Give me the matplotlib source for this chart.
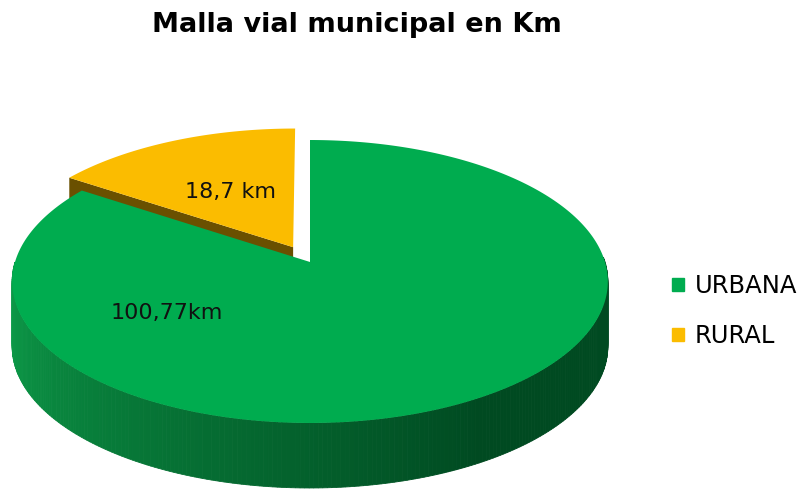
import numpy as np
import matplotlib.pyplot as plt
from matplotlib.patches import Patch

categorias = ["URBANA", "RURAL"]
km = [100.77, 18.7]
etiquetas = ["100,77km", "18,7 km"]
color_cara = ["#00AC4F", "#FBBC00"]
color_lado = ["#004A22", "#6A5000"]
titulo = "Malla vial municipal en Km"

# proyeccion en perspectiva del disco (coordenadas en pixeles)
CX, CY = 310, 262
A, B, K = 295, 138.8, 0.1378
PROF = 65


def proy(u, v, bajo=0):
  u = np.asarray(u, float)
  v = np.asarray(v, float)
  s = 1 + K * v
  return CX + A * u / s, CY - B * v / s + bajo


fig = plt.figure(figsize=(8.03, 4.90), dpi=100)
ax = fig.add_axes([0, 0, 1, 1])
ax.set_xlim(0, 803)
ax.set_ylim(490, 0)
ax.axis("off")

total = sum(km)
barrido = [k / total * 360 for k in km]
inicio = [90, 90 - barrido[0]]
separar = [0.0, 0.123]

# porcion rural (detras)
a0 = inicio[1] - barrido[1]
a1 = inicio[1]
bis = np.radians((a0 + a1) / 2)
ou, ov = separar[1] * np.cos(bis), separar[1] * np.sin(bis)
t = np.radians(np.linspace(a1, a0, 80))
# lado radial visible
cu, cv = ou + np.cos(np.radians(a1)), ov + np.sin(np.radians(a1))
xs1, ys1 = proy([ou, cu], [ov, cv])
xs2, ys2 = proy([cu, ou], [cv, ov], PROF)
ax.fill(np.r_[xs1, xs2], np.r_[ys1, ys2], color=color_lado[1], lw=0)
xr, yr = proy(np.r_[ou, ou + np.cos(t)], np.r_[ov, ov + np.sin(t)])
ax.fill(xr, yr, color=color_cara[1], lw=0)
lu, lv = ou + 0.49 * np.cos(bis), ov + 0.49 * np.sin(bis)
lx, ly = proy(lu, lv)
ax.text(lx, ly, etiquetas[1], ha="center", va="center", fontsize=16, color="#111111")

# porcion urbana: costado con degradado
g0 = inicio[0] - barrido[0]
g1 = inicio[0]
ang = np.linspace(180, 362, 240)
ang = ang[(ang >= g0) & (ang <= g1 + 360)]
claro = np.array([0.05, 0.62, 0.29])
oscuro = np.array([0.0, 0.29, 0.13])
for i in range(len(ang) - 1):
  p = np.radians([ang[i], ang[i + 1]])
  xa, ya = proy(np.cos(p), np.sin(p))
  xb, yb = proy(np.cos(p[::-1]), np.sin(p[::-1]), PROF)
  f = np.interp(ang[i], [185, 300], [0, 1])
  c = claro * (1 - f) + oscuro * f
  ax.fill(np.r_[xa, xb], np.r_[ya, yb], color=c, lw=0.6, ec=c)

t = np.radians(np.linspace(g1, g0, 300))
xg, yg = proy(np.r_[0, np.cos(t)], np.r_[0, np.sin(t)])
ax.fill(xg, yg, color=color_cara[0], lw=0)
lx, ly = proy(0.58 * np.cos(np.radians(217)), 0.58 * np.sin(np.radians(217)))
ax.text(lx, ly, etiquetas[0], ha="center", va="center", fontsize=16, color="#111111")

ax.text(357, 25, titulo, ha="center", va="center", fontsize=19.5, fontweight="bold")

manijas = [Patch(color=c) for c in color_cara]
ax.legend(manijas, categorias, loc="upper left", bbox_to_anchor=(0.81, 0.485),
          frameon=False, fontsize=17.5, handlelength=0.47, handleheight=0.47,
          handletextpad=0.45, labelspacing=1.07)

fig.savefig("out.png", dpi=100)
